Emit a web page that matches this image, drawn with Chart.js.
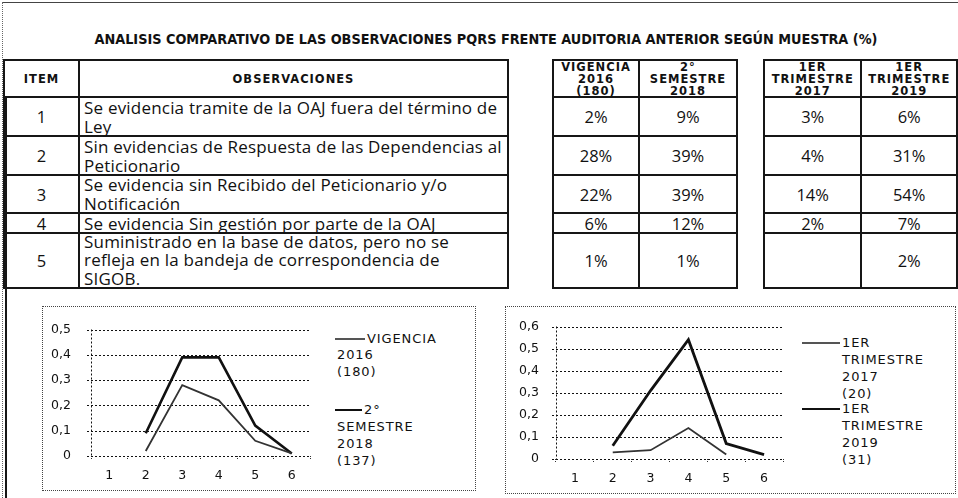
<!DOCTYPE html>
<html><head><meta charset="utf-8">
<script src="https://cdn.jsdelivr.net/npm/chart.js@4.4.1/dist/chart.umd.min.js"></script>
<style>
html,body{margin:0;padding:0;background:#fff;}
body{width:958px;height:498px;position:relative;overflow:hidden;font-family:"Open Sans",sans-serif;color:#111;}
.abs{position:absolute;}
#title{left:0;top:27px;width:958px;text-align:center;white-space:nowrap;}
#title span{display:inline-block;font-family:"DejaVu Sans Condensed","DejaVu Sans",sans-serif;font-weight:bold;font-size:14px;line-height:18px;transform-origin:50% 50%;}
table{border-collapse:collapse;table-layout:fixed;position:absolute;}
td{border:2px solid #161616;padding:0;overflow:visible;white-space:nowrap;vertical-align:middle;}
.cell{display:flex;align-items:center;overflow:visible;}
.hdr{font-family:"DejaVu Sans",sans-serif;font-weight:bold;font-size:11.5px;letter-spacing:1px;line-height:12px;justify-content:center;text-align:center;}
.num{justify-content:center;font-size:16.5px;}
.obs{padding-left:4px;font-size:17px;letter-spacing:0.2px;line-height:19px;}
.box{border:1px dotted #444;}
.leg{position:absolute;font-family:"DejaVu Sans",sans-serif;font-size:13px;letter-spacing:0.9px;line-height:16px;white-space:nowrap;color:#111;transform:translateY(-50%);}
.lline{position:absolute;}
canvas{position:absolute;}
</style>
</head><body>
<div class="abs" style="left:2px;top:2px;width:960px;height:0;border-top:1px solid #444;"></div>
<div class="abs" style="left:2px;top:2px;width:0;height:496px;border-left:1px dotted #666;"></div>
<div class="abs" style="left:5px;top:97px;width:0;height:401px;border-left:2px solid #161616;"></div>
<div id="title" class="abs"><span id="titleText">ANALISIS COMPARATIVO DE LAS OBSERVACIONES PQRS FRENTE AUDITORIA ANTERIOR SEGÚN MUESTRA (%)</span></div>
<div id="tables"></div>
<div class="abs box" style="left:42px;top:306px;width:432px;height:183px;"></div>
<div class="abs box" style="left:505px;top:306px;width:449px;height:186px;"></div>
<canvas id="c1" width="280" height="184" style="left:42px;top:306px;width:280px;height:184px;"></canvas>
<canvas id="c2" width="290" height="187" style="left:505px;top:306px;width:290px;height:187px;"></canvas>
<div id="legends"></div>
<script>
// ---------------- DATA ----------------
const categories = ['1', '2', '3', '4', '5', '6'];
const items = ['1', '2', '3', '4', '5'];
const observaciones = [
  ['Se evidencia tramite de la OAJ fuera del término de', 'Ley'],
  ['Sin evidencias de Respuesta de las Dependencias al', 'Peticionario'],
  ['Se evidencia sin Recibido del Peticionario y/o', 'Notificación'],
  ['Se evidencia Sin gestión por parte de la OAJ'],
  ['Suministrado en la base de datos, pero no se', 'refleja en la bandeja de correspondencia de', 'SIGOB.']
];
const vigencia2016  = [null, 0.02, 0.28, 0.22, 0.06, 0.01];
const semestre2018  = [null, 0.09, 0.39, 0.39, 0.12, 0.01];
const trimestre2017 = [null, 0.03, 0.04, 0.14, 0.02, null];
const trimestre2019 = [null, 0.06, 0.31, 0.54, 0.07, 0.02];
const headerVigencia  = ['VIGENCIA', '2016', '(180)'];
const headerSemestre  = ['2°', 'SEMESTRE', '2018'];
const headerTrim2017  = ['1ER', 'TRIMESTRE', '2017'];
const headerTrim2019  = ['1ER', 'TRIMESTRE', '2019'];
const legendVigencia  = ['VIGENCIA', '2016', '(180)'];
const legendSemestre  = ['2°', 'SEMESTRE', '2018', '(137)'];
const legendTrim2017  = ['1ER', 'TRIMESTRE', '2017', '(20)'];
const legendTrim2019  = ['1ER', 'TRIMESTRE', '2019', '(31)'];
const yTickLabelsLeft  = ['0', '0,1', '0,2', '0,3', '0,4', '0,5'];
const yTickLabelsRight = ['0', '0,1', '0,2', '0,3', '0,4', '0,5', '0,6'];
const colHeaderItem = 'ITEM';
const colHeaderObs = 'OBSERVACIONES';
// --------------------------------------

const rowHeights = [37, 39, 39, 38, 20, 55];
function pct(v){ return v == null ? '' : Math.round(v * 100) + '%'; }
function cell(cls, content, r, extra){
  return '<td><div class="cell ' + cls + '" style="height:' + (rowHeights[r] - 2) + 'px;' + (extra || '') + '">' + content + '</div></td>';
}
function buildTable(left, colWidths, headerCells, bodyRows){
  let h = '<table style="left:' + left + 'px;top:59px;"><colgroup>';
  colWidths.forEach(w => h += '<col style="width:' + w + 'px">');
  h += '</colgroup>';
  h += '<tr>' + headerCells.map(c => cell('hdr', c, 0)).join('') + '</tr>';
  bodyRows.forEach(r => { h += '<tr>' + r.join('') + '</tr>'; });
  return h + '</table>';
}
let html = '';
html += buildTable(3, [75, 429],
  [colHeaderItem, colHeaderObs],
  items.map((it, i) => [cell('num', it, i + 1), cell('obs', '<div>' + observaciones[i].join('<br>') + '</div>', i + 1, i === 4 ? 'line-height:18.5px;' : '')]));
html += buildTable(552, [86, 98],
  [headerVigencia.join('<br>'), headerSemestre.join('<br>')],
  items.map((it, i) => [cell('num', pct(vigencia2016[i + 1]), i + 1), cell('num', pct(semestre2018[i + 1]), i + 1)]));
html += buildTable(763, [99, 97],
  [headerTrim2017.join('<br>'), headerTrim2019.join('<br>')],
  items.map((it, i) => [cell('num', pct(trimestre2017[i + 1]), i + 1), cell('num', pct(trimestre2019[i + 1]), i + 1)]));
document.getElementById('tables').innerHTML = html;

// legends
function legend(lines, sampleX, sampleW, sampleY, lw, color, textX, restX, ys){
  let h = '<div class="lline" style="left:' + sampleX + 'px;top:' + (sampleY - lw / 2) + 'px;width:' + sampleW + 'px;height:' + lw + 'px;background:' + color + '"></div>';
  lines.forEach((t, i) => {
    h += '<div class="leg" style="left:' + (i === 0 ? textX : restX) + 'px;top:' + ys[i] + 'px">' + t + '</div>';
  });
  return h;
}
let lg = '';
lg += legend(legendVigencia, 335, 30, 339, 1.2, '#555', 367, 337, [339, 355, 372]);
lg += legend(legendSemestre, 335, 27, 410, 2, '#111', 364, 337, [410, 427, 444, 461]);
lg += legend(legendTrim2017, 802, 38, 343, 1.2, '#555', 842, 842, [343, 360, 377, 394]);
lg += legend(legendTrim2019, 802, 38, 409, 2, '#111', 842, 842, [409, 426, 443, 460]);
document.getElementById('legends').innerHTML = lg;

// title fit
const tt = document.getElementById('titleText');
const tw = tt.getBoundingClientRect().width;
tt.style.transform = 'scaleX(' + (783 / tw) + ')';
document.getElementById('title').style.left = (486 - 479) + 'px';

// dotted grid drawn from the library's own scales
const dottedGrid = {
  id: 'dottedGrid',
  beforeDatasetsDraw(chart){
    const {ctx, chartArea: a, scales: {y}} = chart;
    ctx.save();
    ctx.strokeStyle = '#111'; ctx.lineWidth = 1; ctx.setLineDash([2, 2]);
    y.ticks.forEach(t => {
      const py = Math.round(y.getPixelForValue(t.value)) + 0.5;
      ctx.beginPath(); ctx.moveTo(a.left - 4, py); ctx.lineTo(a.right, py); ctx.stroke();
    });
    const px = Math.round(a.left) + 0.5;
    ctx.beginPath(); ctx.moveTo(px, a.top); ctx.lineTo(px, a.bottom); ctx.stroke();
    ctx.restore();
  }
};

function makeChart(id, labels, datasets, ymax, yTickLabels, yWidth, yPad, padTop, padRight){
  return new Chart(document.getElementById(id), {
    type: 'line',
    data: { labels: labels, datasets: datasets },
    plugins: [dottedGrid],
    options: {
      responsive: false, animation: false, devicePixelRatio: 1,
      layout: { padding: { top: padTop, right: padRight, left: 0, bottom: 0 } },
      plugins: { legend: { display: false }, tooltip: { enabled: false } },
      elements: { point: { radius: 0 }, line: { tension: 0, borderJoinStyle: 'miter' } },
      scales: {
        x: {
          offset: true,
          border: { display: false },
          grid: {
            offset: true, drawOnChartArea: false, drawTicks: true, tickLength: 4,
            color: '#333', tickColor: '#333', lineWidth: 1, tickBorderDash: [1, 1]
          },
          ticks: { font: { family: 'DejaVu Sans', size: 12.5 }, color: '#111', padding: 8, maxRotation: 0 },
          afterFit: s => { s.height = 34; }
        },
        y: {
          min: 0, max: ymax,
          border: { display: false },
          grid: { color: 'rgba(0,0,0,0)', tickColor: 'rgba(0,0,0,0)', drawTicks: true, tickLength: 4 },
          ticks: {
            stepSize: 0.1, padding: yPad, color: '#111',
            font: { family: 'DejaVu Sans', size: 12.5 },
            callback: (v, i) => yTickLabels[i]
          },
          afterFit: s => { s.width = yWidth; }
        }
      }
    }
  });
}
makeChart('c1', categories, [
  { label: legendVigencia.join(' '), data: vigencia2016, borderColor: '#333', borderWidth: 1.8, fill: false },
  { label: legendSemestre.join(' '), data: semestre2018, borderColor: '#111', borderWidth: 2.6, fill: false }
], 0.5, yTickLabelsLeft, 49, 16, 15, 12);
makeChart('c2', categories, [
  { label: legendTrim2017.join(' '), data: trimestre2017, borderColor: '#333', borderWidth: 1.8, fill: false },
  { label: legendTrim2019.join(' '), data: trimestre2019, borderColor: '#111', borderWidth: 2.8, fill: false }
], 0.6, yTickLabelsRight, 51, 13, 17, 12);
</script>
</body></html>
